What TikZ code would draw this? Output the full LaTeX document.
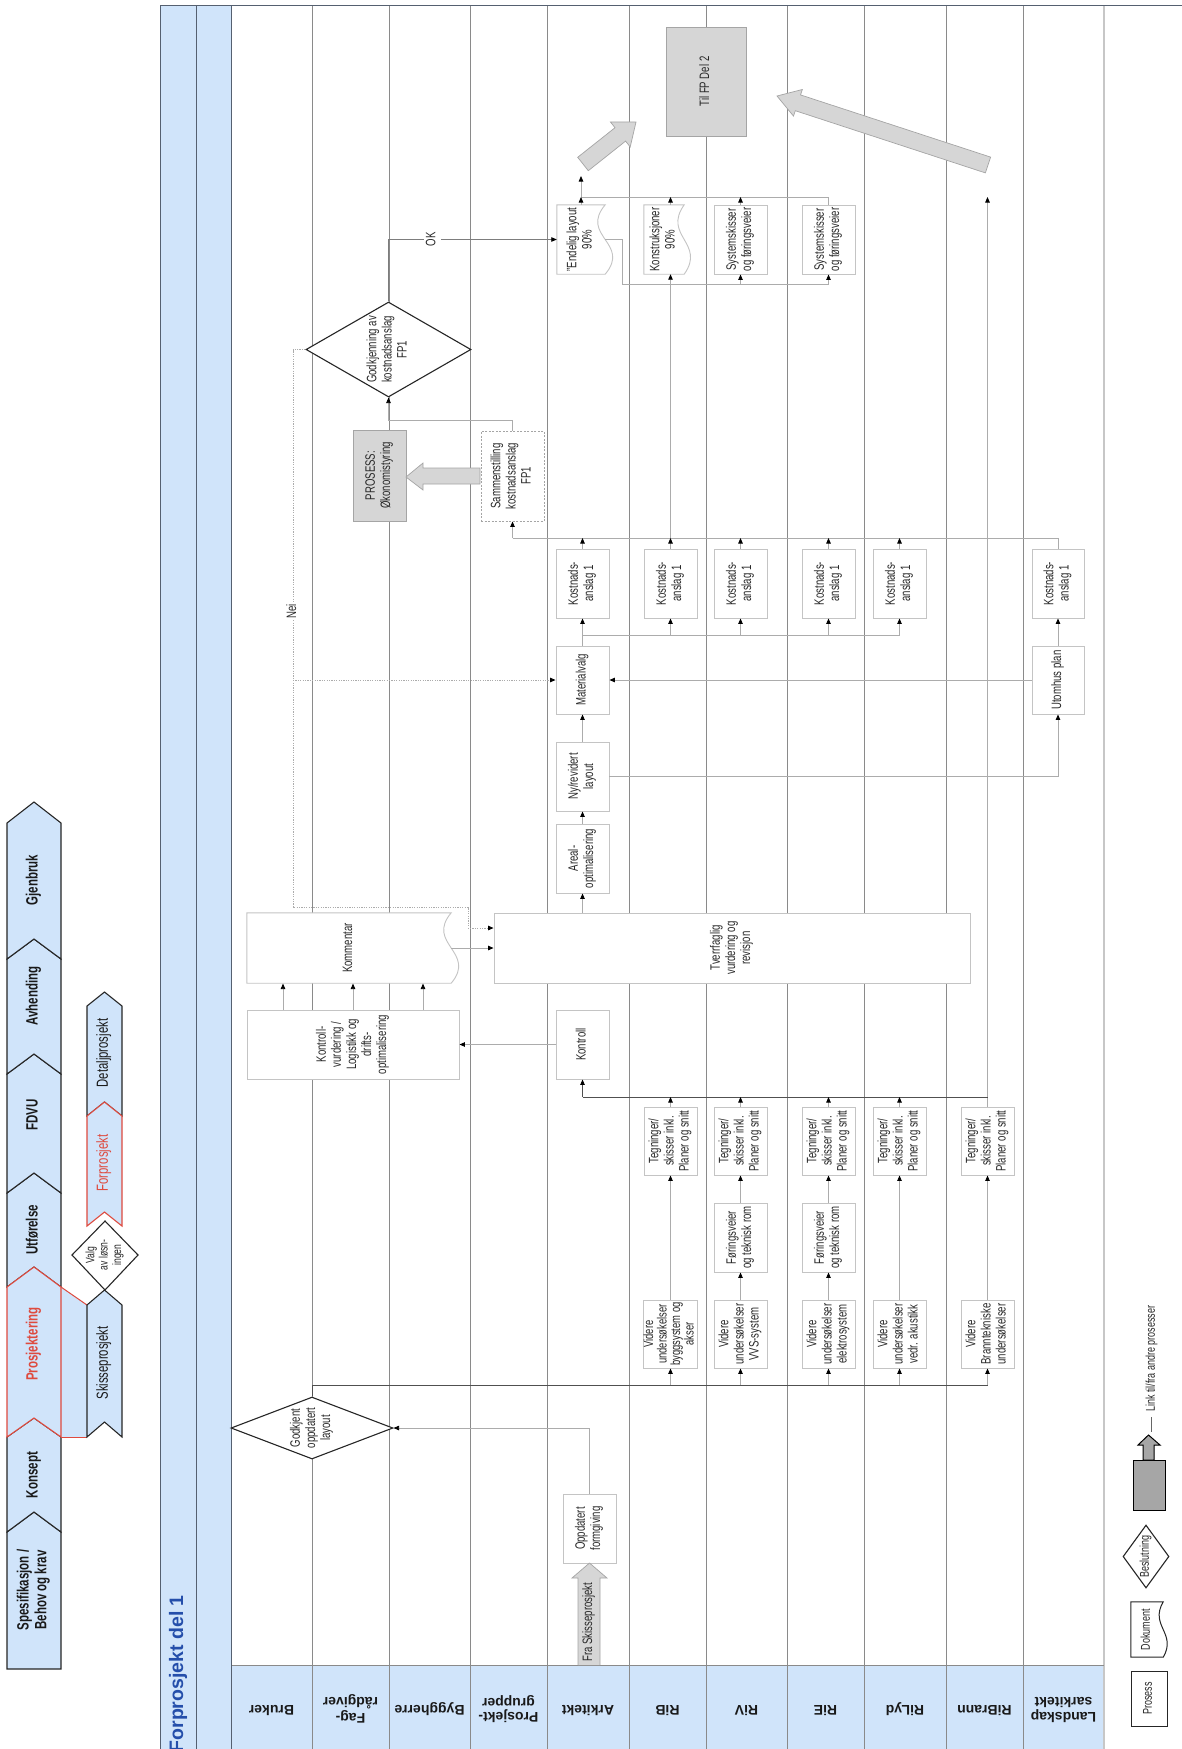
\documentclass[tikz,border=0pt]{standalone}
\usepackage{fontspec}
\setmainfont{Liberation Sans}
\usepackage{graphicx}
\usetikzlibrary{arrows.meta,shapes.geometric}
\definecolor{lb}{RGB}{208,228,250}
\definecolor{rd}{RGB}{222,74,62}
\definecolor{bxc}{RGB}{196,196,196}
\definecolor{lnc}{RGB}{138,138,138}
\definecolor{cnc}{RGB}{172,172,172}
\definecolor{mdc}{RGB}{125,125,125}
\definecolor{dkc}{RGB}{80,80,80}
\definecolor{txc}{RGB}{40,40,40}
\definecolor{ttl}{RGB}{36,78,170}
\definecolor{gfc}{RGB}{214,214,214}
\definecolor{gbc}{RGB}{165,165,165}
\definecolor{bandl}{RGB}{85,96,112}
\newcommand{\rt}[1]{\rotatebox{90}{\scalebox{1}[1.42]{\begin{tabular}{@{}c@{}}#1\end{tabular}}}}
\newcommand{\rh}[1]{\rotatebox{180}{\begin{tabular}{@{}c@{}}#1\end{tabular}}}
\pgfdeclarelayer{bg}
\pgfdeclarelayer{mid}
\pgfsetlayers{bg,mid,main}
\tikzset{
  tnode/.style={inner sep=0pt, text=txc, font=\fontsize{9.6}{10.6}\selectfont},
  pbox/.style={tnode, draw=bxc, line width=0.9pt, fill=white},
  gbox/.style={tnode, draw=gbc, line width=0.9pt, fill=gfc},
  docs/.style={draw=bxc, line width=0.9pt, fill=white},
  dia/.style={tnode, diamond, draw=black!85, line width=1.1pt, fill=white},
  cn/.style={draw=cnc, line width=0.8pt},
  md/.style={draw=mdc, line width=0.8pt},
  dk/.style={draw=dkc, line width=0.8pt},
  dotl/.style={draw=cnc, line width=0.8pt, dash pattern=on 1.2pt off 1.2pt},
  arr/.style={-{Triangle[length=5.5pt,width=4.5pt,color=black]}},
  lane/.style={draw=lnc, line width=0.9pt},
  chv/.style={draw=black!85, line width=1.1pt, fill=lb},
  chr/.style={draw=rd, line width=1.1pt, fill=lb},
  blk/.style={fill=gfc, draw=gbc, line width=0.7pt},
  hdr/.style={inner sep=0pt, text=black!90, font=\fontsize{14}{14}\selectfont\bfseries},
  phs/.style={inner sep=0pt, text=black!90, font=\fontsize{11.5}{12.5}\selectfont\bfseries},
  sph/.style={inner sep=0pt, text=black!90, font=\fontsize{11.3}{12.3}\selectfont},
  lbl/.style={tnode, fill=white, inner sep=1pt},
}
\begin{document}
\begin{tikzpicture}[x=1pt,y=-1pt]
\useasboundingbox (0,0) rectangle (1182,1749);
\begin{pgfonlayer}{bg}
\fill[white] (0,0) rectangle (1182,1749);
\fill[lb] (160,5) rectangle (231,1749);
\fill[lb] (231,1665) rectangle (1104,1749);
\foreach \x in {312,389,470,547,629,706,787,864,946,1023}{\draw[lane] (\x,5) -- (\x,1749);}
\draw[draw=black!22, line width=1.2pt] (1104,5) -- (1104,1749);
\draw[lane] (231,1665) -- (1104,1665);
\draw[draw=bandl, line width=1pt] (160,1749) -- (160,5) -- (1182,5);
\draw[draw=bandl, line width=1pt] (196,5) -- (196,1749);
\draw[draw=bandl, line width=1pt] (231,5) -- (231,1749);
\end{pgfonlayer}

% ---------- lane headers
\node[hdr] (hBru) at (271.5,1708) {\rh{Bruker}};
\node[hdr] (hFag) at (350.5,1708) {\rh{Fag-\\rådgiver}};
\node[hdr] (hByg) at (429.5,1708) {\rh{Byggherre}};
\node[hdr] (hPro) at (508.5,1708) {\rh{Prosjekt-\\grupper}};
\node[hdr] (hArk) at (588,1708) {\rh{Arkitekt}};
\node[hdr] (hRiB) at (667.5,1708) {\rh{RiB}};
\node[hdr] (hRiV) at (746.5,1708) {\rh{RiV}};
\node[hdr] (hRiE) at (825.5,1708) {\rh{RiE}};
\node[hdr] (hRiL) at (905,1708) {\rh{RiLyd}};
\node[hdr] (hRiBr) at (984.5,1708) {\rh{RiBrann}};
\node[hdr] (hLan) at (1063.5,1708) {\rh{Landskap\\sarkitekt}};

% ---------- title
\node[inner sep=0pt, anchor=north, text=ttl, font=\fontsize{19.5}{20}\selectfont\bfseries] (title) at (178,1595) {\rotatebox{90}{Forprosjekt del 1}};

% ---------- phase chevrons
\draw[chv] (7,1669) -- (61,1669) -- (61,1532) -- (34,1512) -- (7,1532) -- cycle;
\draw[chv] (7,1532) -- (34,1512) -- (61,1532) -- (61,1437) -- (34,1418) -- (7,1437) -- cycle;
\draw[chv] (7,1287) -- (34,1267) -- (61,1287) -- (61,1193) -- (34,1173) -- (7,1193) -- cycle;
\draw[chv] (7,1193) -- (34,1173) -- (61,1193) -- (61,1074) -- (34,1054) -- (7,1074) -- cycle;
\draw[chv] (7,1074) -- (34,1054) -- (61,1074) -- (61,959) -- (34,939) -- (7,959) -- cycle;
\draw[chv] (7,959) -- (34,939) -- (61,959) -- (61,823) -- (34,802) -- (7,823) -- cycle;
\fill[lb] (61,1287) -- (87,1305) -- (87,1437) -- (61,1437) -- cycle;
\draw[rd, line width=1pt] (61,1287) -- (87,1305);
\draw[rd, line width=1pt] (61,1437) -- (87,1437);
\draw[chr] (7,1437) -- (34,1418) -- (61,1437) -- (61,1287) -- (34,1267) -- (7,1287) -- cycle;
\draw[chv] (87,1437) -- (104.5,1422) -- (122,1437) -- (122,1305) -- (104.5,1290) -- (87,1305) -- cycle;
\draw[chv] (87,1116) -- (104.5,1102) -- (122,1116) -- (122,1006) -- (104.5,992) -- (87,1006) -- cycle;
\draw[chr] (87,1226) -- (104.5,1212) -- (122,1226) -- (122,1116) -- (104.5,1102) -- (87,1116) -- cycle;
\draw[draw=black!85, line width=1.1pt, fill=white] (72,1255) -- (105,1221) -- (138,1255) -- (105,1290) -- cycle;

\node[phs] (pSpe) at (34,1590) {\rt{Spesifikasjon /\\Behov og krav}};
\node[phs] (pKon) at (34,1475) {\rt{Konsept}};
\node[phs, text=rd] (pPrj) at (34,1344) {\rt{Prosjektering}};
\node[phs] (pUtf) at (34,1230) {\rt{Utførelse}};
\node[phs] (pFdv) at (34,1115) {\rt{FDVU}};
\node[phs] (pAvh) at (34,996) {\rt{Avhending}};
\node[phs] (pGje) at (34,880) {\rt{Gjenbruk}};
\node[sph] (sSki) at (104.5,1363) {\rt{Skisseprosjekt}};
\node[sph, text=rd] (sFor) at (104.5,1163) {\rt{Forprosjekt}};
\node[sph] (sDet) at (104.5,1053) {\rt{Detaljprosjekt}};
\node[tnode, text=black!85, font=\fontsize{8.6}{9.4}\selectfont] (valg) at (105,1255) {\rt{Valg\\av løsn-\\ingen}};

% ---------- upper part
\node[gbox, minimum width=80pt, minimum height=109pt] (tilfp) at (706,81.5) {\rt{Til FP Del 2}};
\node[tnode, minimum width=48pt, minimum height=69pt] (endl) at (581,239.5) {\rt{"Endelig layout\\90\%}};
\node[tnode, minimum width=40pt, minimum height=69pt] (kons) at (664,239.5) {\rt{Konstruksjoner\\90\%}};
\node[pbox, minimum width=53pt, minimum height=69pt] (sysV) at (740.5,239.5) {\rt{Systemskisser\\og føringsveier}};
\node[pbox, minimum width=53pt, minimum height=69pt] (sysE) at (828.5,239.5) {\rt{Systemskisser\\og føringsveier}};
\node[dia, aspect=1.74, minimum width=165pt, minimum height=95pt] (god1) at (388.5,349.5) {\rt{Godkjenning av\\kostnadsanslag\\FP1}};
\node[gbox, minimum width=53pt, minimum height=91pt] (pros) at (379.5,475.5) {\rt{PROSESS:\\Økonomistyring}};
\node[pbox, draw=gbc, dash pattern=on 2pt off 1.5pt, minimum width=63pt, minimum height=90pt] (samm) at (512.5,476) {\rt{Sammenstilling\\kostnadsanslag\\FP1}};

\node[pbox, minimum width=53pt, minimum height=69pt] (kA) at (582.5,583.5) {\rt{Kostnads-\\anslag 1}};
\node[pbox, minimum width=53pt, minimum height=69pt] (kB) at (670.5,583.5) {\rt{Kostnads-\\anslag 1}};
\node[pbox, minimum width=53pt, minimum height=69pt] (kV) at (740.5,583.5) {\rt{Kostnads-\\anslag 1}};
\node[pbox, minimum width=53pt, minimum height=69pt] (kE) at (828.5,583.5) {\rt{Kostnads-\\anslag 1}};
\node[pbox, minimum width=53pt, minimum height=69pt] (kL) at (899.5,583.5) {\rt{Kostnads-\\anslag 1}};
\node[pbox, minimum width=52pt, minimum height=69pt] (kLa) at (1058,583.5) {\rt{Kostnads-\\anslag 1}};

\node[pbox, minimum width=53pt, minimum height=68pt] (mat) at (582.5,680) {\rt{Materialvalg}};
\node[pbox, minimum width=52pt, minimum height=68pt] (utp) at (1058,680) {\rt{Utomhus plan}};
\node[pbox, minimum width=53pt, minimum height=69pt] (ny) at (582.5,776.5) {\rt{Ny/revidert\\layout}};
\node[pbox, minimum width=53pt, minimum height=69pt] (areal) at (582.5,858.5) {\rt{Areal-\\optimalisering}};

\node[pbox, minimum width=476pt, minimum height=70pt] (tverr) at (732,948) {\rt{Tverrfaglig\\vurdering og\\revisjon}};
\node[tnode, minimum width=204pt, minimum height=70pt] (komm) at (349,948) {\rt{Kommentar}};
\node[pbox, minimum width=212pt, minimum height=69pt] (kvurd) at (353,1044.5) {\rt{Kontroll-\\vurdering /\\Logistikk og\\drifts-\\optimalisering}};
\node[pbox, minimum width=53pt, minimum height=69pt] (kontr) at (582.5,1044.5) {\rt{Kontroll}};

\node[pbox, minimum width=53pt, minimum height=68pt] (tB) at (670.5,1141) {\rt{Tegninger/\\skisser inkl.\\Planer og snitt}};
\node[pbox, minimum width=53pt, minimum height=68pt] (tV) at (740.5,1141) {\rt{Tegninger/\\skisser inkl.\\Planer og snitt}};
\node[pbox, minimum width=53pt, minimum height=68pt] (tE) at (828.5,1141) {\rt{Tegninger/\\skisser inkl.\\Planer og snitt}};
\node[pbox, minimum width=53pt, minimum height=68pt] (tL) at (899.5,1141) {\rt{Tegninger/\\skisser inkl.\\Planer og snitt}};
\node[pbox, minimum width=53pt, minimum height=68pt] (tBr) at (987.5,1141) {\rt{Tegninger/\\skisser inkl.\\Planer og snitt}};

\node[pbox, minimum width=53pt, minimum height=69pt] (fV) at (740.5,1237.5) {\rt{Føringsveier\\og teknisk rom}};
\node[pbox, minimum width=53pt, minimum height=69pt] (fE) at (828.5,1237.5) {\rt{Føringsveier\\og teknisk rom}};

\node[pbox, minimum width=53pt, minimum height=68pt, font=\fontsize{9.4}{9.1}\selectfont] (vB) at (670.5,1334) {\rt{Videre\\undersøkelser\\byggsystem og\\akser}};
\node[pbox, minimum width=53pt, minimum height=68pt] (vV) at (740.5,1334) {\rt{Videre\\undersøkelser\\VVS-system}};
\node[pbox, minimum width=53pt, minimum height=68pt] (vE) at (828.5,1334) {\rt{Videre\\undersøkelser\\elektrosystem}};
\node[pbox, minimum width=53pt, minimum height=68pt] (vL) at (899.5,1334) {\rt{Videre\\undersøkelser\\vedr. akustikk}};
\node[pbox, minimum width=53pt, minimum height=68pt] (vBr) at (987.5,1334) {\rt{Videre\\Branntekniske\\undersøkelser}};

\node[dia, aspect=2.6, minimum width=162pt, minimum height=62pt] (god2) at (312,1428) {\rt{Godkjent\\oppdatert\\layout}};
\node[pbox, minimum width=53pt, minimum height=69pt] (oppd) at (589.5,1528.5) {\rt{Oppdatert\\formgiving}};

% document shapes
\begin{pgfonlayer}{mid}
\draw[docs] (endl.north west) -- (endl.north east) .. controls +(-26,31) and +(26,-31) .. (endl.south east) -- (endl.south west) -- cycle;
\draw[docs] (kons.north west) -- (kons.north east) .. controls +(-22,31) and +(22,-31) .. (kons.south east) -- (kons.south west) -- cycle;
\draw[docs] (komm.north west) -- (komm.north east) .. controls +(-26,31) and +(26,-31) .. (komm.south east) -- (komm.south west) -- cycle;
\end{pgfonlayer}

% ---------- block arrows
\draw[blk] (480,468) -- (423,468) -- (423,463) -- (406,477) -- (423,490) -- (423,484) -- (480,484) -- cycle;
\draw[blk] (588.3,170.7) -- (625.6,141.1) -- (630.2,147.0) -- (636,122) -- (610.4,121.9) -- (615.0,127.7) -- (577.7,157.3) -- cycle;
\draw[blk] (990.6,157.1) -- (800.5,94.9) -- (802.3,89.5) -- (777,96) -- (793.5,116.1) -- (795.3,110.7) -- (985.4,172.9) -- cycle;
\draw[blk] (578,1665) -- (578,1578) -- (572,1578) -- (589.5,1563) -- (607,1578) -- (600,1578) -- (600,1665);
\node[tnode] (fraS) at (589,1622) {\rt{Fra Skisseprosjekt}};

% ---------- connectors
\draw[md,arr] (god1.north) |- node[lbl,pos=0.63]{\rt{OK}} (endl.west);
\draw[dotl,arr] (god1.west) -- (293,349.5) -- node[lbl,pos=0.47]{\rt{Nei}} (293,907) -- (468,907) -- (468,928) -- ([yshift=20pt]tverr.west);
\coordinate (neiB) at (293,680);
\draw[dotl,arr] (neiB) -- (mat.west);
\draw[cn,arr] (komm.east) -- (tverr.west);
\draw[cn,arr] ([xshift=-70pt]kvurd.north) -- ++(0,-26);
\draw[cn,arr] (kvurd.north) -- ++(0,-26);
\draw[cn,arr] ([xshift=70pt]kvurd.north) -- ++(0,-26);
\draw[cn,arr] (kontr.west) -- (kvurd.east);
\draw[cn,arr] (areal.south |- tverr.north) -- (areal.south);
\draw[cn,arr] (areal.north) -- (ny.south);
\draw[cn,arr] (ny.north) -- (mat.south);
\draw[cn,arr] (mat.north) -- (kA.south);
\coordinate (busK) at (582.5,635);
\draw[cn] (busK) -- (kL.south |- busK);
\foreach \nn in {kB,kV,kE,kL}{\draw[cn,arr] (\nn.south |- busK) -- (\nn.south);}
\draw[cn,arr] (utp.north) -- (kLa.south);
\draw[cn,arr] (utp.west) -- (mat.east);
\draw[cn,arr] (ny.east) -| (utp.south);
\coordinate (busS) at (512.5,538);
\draw[cn] (busS) -- (kLa.north |- busS) -- (kLa.north);
\foreach \nn in {kA,kB,kV,kE,kL}{\draw[cn,arr] (\nn.north) -- (\nn.north |- busS);}
\draw[cn,arr] (busS) -- (samm.south);
\draw[cn,arr] (kB.north |- busS) -- (kB.north |- kons.south);
\draw[cn,arr] (samm.north) -- ++(0,-10) -| (god1.south);

\coordinate (busT) at (581,197);
\draw[cn] (busT) -- (sysE.north |- busT) -- (sysE.north);
\draw[cn,arr] (endl.north) -- (endl.north |- busT);
\draw[cn,arr] (kB.north |- kons.north) -- (kB.north |- busT);
\draw[cn,arr] (sysV.north) -- (sysV.north |- busT);
\coordinate (upE) at (581,176);
\draw[cn,arr] (busT) -- (upE);
\coordinate (busB) at (622,284);
\draw[cn] (endl.east) -| (busB) -- (sysE.south |- busB);
\draw[cn,arr] (sysV.south |- busB) -- (sysV.south);
\draw[cn,arr] (sysE.south |- busB) -- (sysE.south);

\coordinate (brTop) at (987.5,197);
\draw[cn,arr] (tBr.north) -- (brTop);
\coordinate (busG) at (582.5,1097);
\draw[dk] (busG) -- (tBr.north |- busG);
\draw[dk,arr] (busG) -- (kontr.south);
\foreach \nn in {tB,tV,tE,tL}{\draw[cn,arr] (\nn.north) -- (\nn.north |- busG);}
\draw[cn,arr] (vB.north) -- (tB.south);
\draw[cn,arr] (vV.north) -- (fV.south);
\draw[cn,arr] (fV.north) -- (tV.south);
\draw[cn,arr] (vE.north) -- (fE.south);
\draw[cn,arr] (fE.north) -- (tE.south);
\draw[cn,arr] (vL.north) -- (tL.south);
\draw[cn,arr] (vBr.north) -- (tBr.south);
\coordinate (busV) at (312,1385);
\draw[dk] (god2.north) -- (busV) -- (vBr.south |- busV);
\foreach \nn in {vB,vV,vE,vL,vBr}{\draw[cn,arr] (\nn.south |- busV) -- (\nn.south);}
\draw[cn,arr] (oppd.north) |- (god2.east);

% ---------- legend
\node[tnode, draw=black!85, line width=1pt, fill=white, minimum width=36pt, minimum height=55pt, font=\fontsize{9}{10}\selectfont] (lgP) at (1149,1698.5) {\rt{Prosess}};
\node[tnode, minimum width=32pt, minimum height=55pt, font=\fontsize{9}{10}\selectfont] (lgD) at (1147,1629.5) {\rt{Dokument}};
\begin{pgfonlayer}{mid}
\draw[draw=black!85, line width=1pt, fill=white] (lgD.north west) -- (lgD.north east) .. controls +(-14,24) and +(14,-24) .. (lgD.south east) -- (lgD.south west) -- cycle;
\end{pgfonlayer}
\node[dia, aspect=0.73, minimum width=46pt, minimum height=63pt, font=\fontsize{9}{10}\selectfont] (lgB) at (1146,1556.5) {\rt{Beslutning}};
\draw[draw=black, line width=1pt, fill=black!35] (1133,1460) rectangle (1165,1510);
\draw[draw=black, line width=1pt, fill=black!35] (1143,1460) -- (1143,1445) -- (1138,1445) -- (1148.5,1435) -- (1160,1445) -- (1154,1445) -- (1154,1460) -- cycle;
\draw[draw=black!60, line width=0.6pt] (1151,1417) -- (1151,1432);
\node[tnode, anchor=south, font=\fontsize{9}{10}\selectfont] (lgL) at (1152,1412) {\rt{Link til/fra andre prosesser}};
\end{tikzpicture}
\end{document}
